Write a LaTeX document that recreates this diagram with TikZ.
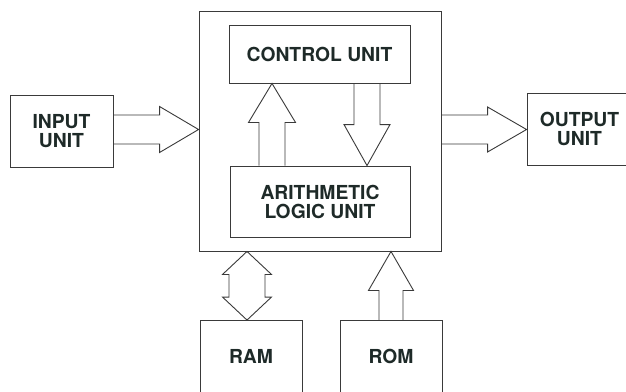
\documentclass[tikz,border=0pt]{standalone}
\usepackage{fontspec}
\setmainfont{TeX Gyre Heros}
\usetikzlibrary{calc}
\definecolor{inkline}{HTML}{3A3A3A}
\definecolor{inktext}{HTML}{1E2A28}
\newcommand\HArrow[5]{%
 \draw[blk] let \p1=(#1), \p2=(#2) in
  (\x1,\y1+#3) -- (\x2-#5,\y1+#3) -- (\x2-#5,\y1+#4) -- (\x2,\y1)
  -- (\x2-#5,\y1-#4) -- (\x2-#5,\y1-#3) -- (\x1,\y1-#3);}
\newcommand\UpArrow[5]{%
 \draw[blk] let \p1=(#1), \p2=(#2) in
  (\x1-#3,\y1) -- (\x1-#3,\y2-#5) -- (\x1-#4,\y2-#5) -- (\x1,\y2)
  -- (\x1+#4,\y2-#5) -- (\x1+#3,\y2-#5) -- (\x1+#3,\y1);}
\newcommand\DnArrow[5]{%
 \draw[blk] let \p1=(#1), \p2=(#2) in
  (\x1-#3,\y1) -- (\x1-#3,\y2+#5) -- (\x1-#4,\y2+#5) -- (\x1,\y2)
  -- (\x1+#4,\y2+#5) -- (\x1+#3,\y2+#5) -- (\x1+#3,\y1);}
\newcommand\BothArrow[5]{%
 \draw[blk] let \p1=(#1), \p2=(#2) in
  (\x1,\y2) -- (\x1+#4,\y2-#5) -- (\x1+#3,\y2-#5) -- (\x1+#3,\y1+#5)
  -- (\x1+#4,\y1+#5) -- (\x1,\y1) -- (\x1-#4,\y1+#5) -- (\x1-#3,\y1+#5)
  -- (\x1-#3,\y2-#5) -- (\x1-#4,\y2-#5) -- cycle;}
\begin{document}
\begin{tikzpicture}[x=1pt,y=-1pt,
  box/.style={draw=inkline,line width=0.9pt,inner sep=0pt,
    minimum width=#1,text=inktext,align=center,
    font=\fontsize{19.3}{19}\selectfont\bfseries},
  blk/.style={draw=inkline,line width=0.9pt,line join=miter}]
\useasboundingbox (0,0) rectangle (626,391);
\clip (0,0) rectangle (626,391);
\fill[white] (0,0) rectangle (626,391);
\node[box=242pt,minimum height=240pt] (cpu) at (320,131) {};
\node[box=181pt,minimum height=58pt] (cu) at (319.5,54) {CONTROL UNIT};
\node[box=180pt,minimum height=71pt] (alu) at (320,201.5) {ARITHMETIC\\LOGIC UNIT};
\node[box=103pt,minimum height=72pt] (inp) at (61.5,131) {INPUT\\UNIT};
\node[box=105pt,minimum height=72pt] (out) at (579.5,129) {OUTPUT\\UNIT};
\node[box=102pt,minimum height=72.5pt] (ram) at (251,356.75) {RAM};
\node[box=102pt,minimum height=72.5pt] (rom) at (391,356.75) {ROM};
\HArrow{[yshift=1.5pt]inp.east}{cpu.west}{14.5pt}{23pt}{39pt}
\HArrow{[yshift=1.5pt]cpu.east}{out.west}{14.5pt}{22.5pt}{39pt}
\UpArrow{[xshift=-48pt]alu.north}{cu.south}{13pt}{23.5pt}{39pt}
\DnArrow{[xshift=47.5pt]cu.south}{alu.north}{13pt}{23pt}{41pt}
\UpArrow{rom.north}{cpu.south}{12pt}{22.5pt}{39pt}
\BothArrow{[xshift=-4pt]ram.north}{cpu.south}{18pt}{24.5pt}{23pt}
\end{tikzpicture}
\end{document}
